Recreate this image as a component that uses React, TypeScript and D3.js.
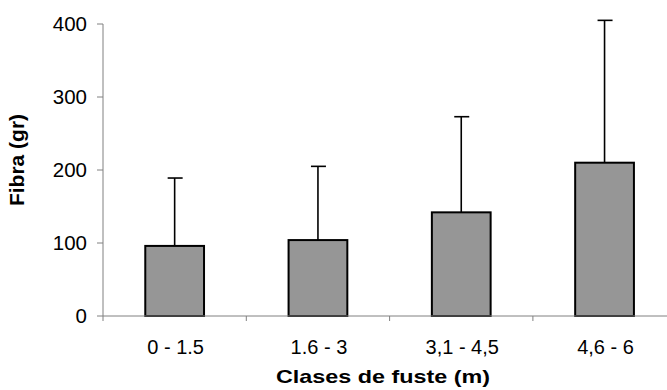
import * as d3 from 'd3';

const categories = ['0 - 1.5', '1.6 - 3', '3,1 - 4,5', '4,6 - 6'];
const means = [96, 104, 142, 210];
const upper = [189, 205, 273, 405];
const yTicks = [0, 100, 200, 300, 400];

const W = 667;
const H = 390;
const left = 103;
const step = 143.3;
const font = 'Liberation Sans, Arial, sans-serif';

export default function App() {
  const x = d3
    .scaleBand<string>()
    .domain(categories)
    .range([left, left + step * categories.length])
    .paddingInner(0.59)
    .paddingOuter(0.295);
  const y = d3.scaleLinear().domain([0, 400]).range([316, 24]);
  const axisColor = '#808080';
  const bounds = [0, 1, 2, 3, 4].map(i => left + i * step);

  return (
    <svg
      width={W}
      height={H}
      style={{ position: 'absolute', left: 0, top: 0, background: '#fff' }}
      fontFamily={font}
    >
      {/* y axis */}
      <line x1={left} x2={left} y1={y(400)} y2={y(0) + 5} stroke={axisColor} strokeWidth={1} />
      {yTicks.map(t => (
        <g key={t}>
          <line x1={left - 6} x2={left} y1={y(t)} y2={y(t)} stroke={axisColor} strokeWidth={1} />
          <text x={left - 16} y={y(t)} dy="0.36em" textAnchor="end" fontSize={20.5} fill="#000">
            {t}
          </text>
        </g>
      ))}

      {/* bars */}
      {categories.map((c, i) => {
        const cx = (x(c) ?? 0) + x.bandwidth() / 2;
        return (
          <g key={c}>
            <line x1={cx} x2={cx} y1={y(means[i])} y2={y(upper[i])} stroke="#000" strokeWidth={1.6} />
            <line x1={cx - 7} x2={cx + 8} y1={y(upper[i])} y2={y(upper[i])} stroke="#000" strokeWidth={1.6} />
            <rect
              x={x(c)}
              y={y(means[i])}
              width={x.bandwidth()}
              height={y(0) - y(means[i])}
              fill="#969696"
              stroke="#000"
              strokeWidth={2}
            />
          </g>
        );
      })}

      {/* x axis */}
      <line x1={left} x2={bounds[4]} y1={y(0)} y2={y(0)} stroke={axisColor} strokeWidth={1} />
      {bounds.slice(1).map(b => (
        <line key={b} x1={b} x2={b} y1={y(0)} y2={y(0) + 5} stroke={axisColor} strokeWidth={1} />
      ))}
      {categories.map(c => (
        <text
          key={c}
          x={(x(c) ?? 0) + x.bandwidth() / 2 + 1}
          y={354}
          textAnchor="middle"
          fontSize={20}
          fill="#000"
        >
          {c}
        </text>
      ))}

      <text
        x={383}
        y={383}
        textAnchor="middle"
        fontSize={19}
        fontWeight="bold"
        fill="#000"
        textLength={214}
        lengthAdjust="spacingAndGlyphs"
      >
        Clases de fuste (m)
      </text>
      <text
        transform="translate(24,160) rotate(-90)"
        textAnchor="middle"
        fontSize={21}
        fontWeight="bold"
        fill="#000"
      >
        Fibra (gr)
      </text>
    </svg>
  );
}
